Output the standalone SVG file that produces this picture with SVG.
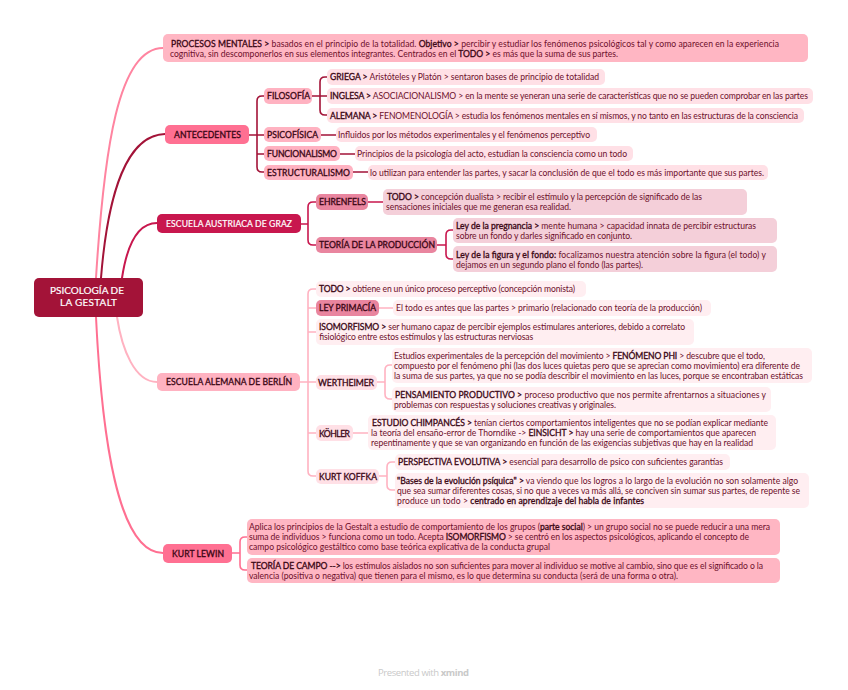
<svg xmlns="http://www.w3.org/2000/svg" width="848" height="690" viewBox="0 0 848 690">
<style>
text{font-family:"Lato","Open Sans","Liberation Sans",sans-serif;font-size:8.6px;fill:#6d0f2b}
.h,.b{fill:#3a0614;stroke:#3a0614;stroke-width:.3}
.w{fill:#fff;stroke:#fff;stroke-width:.2}
.t{font-size:10px;fill:#fff;stroke:#fff;stroke-width:.2}
.f{font-family:"Open Sans","Liberation Sans",sans-serif;font-size:9.5px;fill:#c9c9c9}
rect{stroke:none}
.c{fill:none;stroke-width:1.6;stroke-linecap:round}
.k{stroke-width:2}
.a{stroke:#a31338}.g{stroke:#c8174e}.p{stroke:#ffb2c1}.l{stroke:#ff6f91}.m{stroke:#ff84a0}
.r0{fill:#a31338}.r1{fill:#ff7092}.r2{fill:#c8174e}.r3{fill:#ffb2c1}.r4{fill:#e9859f}.r5{fill:#f4cfd9}.r6{fill:#ffe0e6}.r7{fill:#ffeef1}.r8{fill:#ffb6c3}
</style>
<rect width="848" height="690" fill="#fff"/>
<g id="connectors">
<path class="c k m" d="M96,278C104,150 118,48 163,48"/>
<path class="c k a" d="M101,278C108,190 128,135 165,134"/>
<path class="c k g" d="M122,278C127,245 138,223 157,223"/>
<path class="c k p" d="M117,317C122,350 135,382 157,382"/>
<path class="c k l" d="M96,317C102,440 118,553 163,553"/>
<path class="c a" d="M249,135H264M264,96H262Q257,96 257,101V167Q257,172 262,172H264M257,154H264"/>
<path class="c a" d="M312,96H327M327,77H325Q320,77 320,82V110Q320,115 325,115H327"/>
<path class="c a" d="M321,135H336M340,154H355M353,172H368"/>
<path class="c g" d="M301,224H308M316,202H313Q308,202 308,207V240Q308,245 313,245H316M368,202H383M437,245H446M453,230H451Q446,230 446,235V254Q446,259 451,259H453"/>
<path class="c p" d="M300,382H316M316,289H313Q308,289 308,294V471Q308,476 313,476H316M308,308H316M308,332H316M308,433H316M379,308H393M353,433H368"/>
<path class="c p" d="M377,382H385M392,365H390Q385,365 385,370V394Q385,399 390,399H392M379,476H387M395,462H392Q387,462 387,467V485Q387,490 392,490H395"/>
<path class="c l" d="M232,553H240M247,537H245Q240,537 240,542V565Q240,570 245,570H247"/>
</g>
<g id="root"><rect class="r0" x="34" y="278" width="109" height="39" rx="5"/>
<text class="t" x="50" y="294" textLength="74">PSICOLOGÍA DE</text><text class="t" x="60" y="305.500" textLength="57">LA GESTALT</text></g>
<g id="procesos"><rect class="r8" x="163" y="34" width="645" height="28" rx="5"/>
<text x="171" y="47" textLength="608"><tspan class="b">PROCESOS MENTALES &gt;</tspan> basados en el principio de la totalidad. <tspan class="b">Objetivo &gt;</tspan> percibir y estudiar los fenómenos psicológicos tal y como aparecen en la experiencia</text>
<text x="170" y="57" textLength="448">cognitiva, sin descomponerlos en sus elementos integrantes. Centrados en el <tspan class="b">TODO &gt;</tspan> es más que la suma de sus partes.</text></g>
<g id="antecedentes"><rect class="r1" x="165" y="125" width="84" height="19" rx="5"/><text class="h" x="174" y="138" textLength="67">ANTECEDENTES</text></g>
<g id="filosofia"><rect class="r3" x="264" y="88" width="48" height="16" rx="5"/><text class="h" x="267" y="99" textLength="43">FILOSOFÍA</text></g>
<g id="griega"><rect class="r6" x="327" y="69" width="278" height="16" rx="5"/><text x="330" y="80" textLength="269"><tspan class="b">GRIEGA &gt;</tspan> Aristóteles y Platón &gt; sentaron bases de principio de totalidad</text></g>
<g id="inglesa"><rect class="r6" x="327" y="88" width="486" height="16" rx="5"/><text x="330" y="99" textLength="478"><tspan class="b">INGLESA &gt;</tspan> ASOCIACIONALISMO &gt; en la mente se yeneran una serie de características que no se pueden comprobar en las partes</text></g>
<g id="alemana"><rect class="r6" x="327" y="108" width="477" height="15" rx="5"/><text x="330" y="118.500" textLength="468"><tspan class="b">ALEMANA &gt;</tspan> FENOMENOLOGÍA &gt; estudia los fenómenos mentales en sí mismos, y no tanto en las estructuras de la consciencia</text></g>
<g id="psicofisica"><rect class="r3" x="264" y="127" width="57" height="15" rx="5"/><text class="h" x="267" y="138" textLength="51">PSICOFÍSICA</text></g>
<g id="influidos"><rect class="r6" x="336" y="127" width="261" height="15" rx="5"/><text x="338" y="138" textLength="252">Influidos por los métodos experimentales y el fenómenos perceptivo</text></g>
<g id="funcionalismo"><rect class="r3" x="264" y="146" width="76" height="15" rx="5"/><text class="h" x="267" y="157" textLength="70">FUNCIONALISMO</text></g>
<g id="principios"><rect class="r6" x="355" y="146" width="278" height="15" rx="5"/><text x="357" y="157" textLength="270">Principios de la psicología del acto, estudian la consciencia como un todo</text></g>
<g id="estructuralismo"><rect class="r3" x="264" y="165" width="89" height="15" rx="5"/><text class="h" x="267" y="176" textLength="83">ESTRUCTURALISMO</text></g>
<g id="utilizan"><rect class="r6" x="368" y="165" width="400" height="15" rx="5"/><text x="370" y="176" textLength="394">lo utilizan para entender las partes, y sacar la conclusión de que el todo es más importante que sus partes.</text></g>
<g id="austriaca"><rect class="r2" x="157" y="214" width="144" height="19" rx="5"/><text class="w" x="166" y="227" textLength="126">ESCUELA AUSTRIACA DE GRAZ</text></g>
<g id="ehrenfels"><rect class="r4" x="316" y="194" width="52" height="16" rx="5"/><text class="h" x="319" y="205" textLength="47">EHRENFELS</text></g>
<g id="todo1"><rect class="r5" x="383" y="189" width="364" height="26" rx="5"/>
<text x="387" y="200" textLength="315"><tspan class="b">TODO &gt;</tspan> concepción dualista &gt; recibir el estímulo y la percepción de significado de las</text>
<text x="386" y="210" textLength="185">sensaciones iniciales que me generan esa realidad.</text></g>
<g id="produccion"><rect class="r4" x="316" y="237" width="121" height="16" rx="5"/><text class="h" x="319" y="248" textLength="116">TEORÍA DE LA PRODUCCIÓN</text></g>
<g id="ley1"><rect class="r5" x="453" y="218" width="324" height="25" rx="5"/>
<text x="456" y="229" textLength="300"><tspan class="b">Ley de la pregnancia &gt;</tspan> mente humana &gt; capacidad innata de percibir estructuras</text>
<text x="456" y="239" textLength="176">sobre un fondo y darles significado en conjunto.</text></g>
<g id="ley2"><rect class="r5" x="453" y="246" width="324" height="26" rx="5"/>
<text x="456" y="257.500" textLength="310"><tspan class="b">Ley de la figura y el fondo:</tspan> focalizamos nuestra atención sobre la figura (el todo) y</text>
<text x="456" y="267.500" textLength="187">dejamos en un segundo plano el fondo (las partes).</text></g>
<g id="berlin"><rect class="r3" x="157" y="373" width="143" height="18" rx="5"/><text class="h" x="166" y="385" textLength="126">ESCUELA ALEMANA DE BERLÍN</text></g>
<g id="todo2"><rect class="r7" x="316" y="281" width="270" height="16" rx="5"/><text x="319" y="292" textLength="256"><tspan class="b">TODO &gt;</tspan> obtiene en un único proceso perceptivo (concepción monista)</text></g>
<g id="primacia"><rect class="r4" x="316" y="300" width="63" height="16" rx="5"/><text class="h" x="319" y="311" textLength="57">LEY PRIMACÍA</text></g>
<g id="eltodo"><rect class="r7" x="393" y="300" width="318" height="16" rx="5"/><text x="396" y="311" textLength="306">El todo es antes que las partes &gt; primario (relacionado con teoría de la producción)</text></g>
<g id="isomorfismo"><rect class="r7" x="316" y="319" width="378" height="26" rx="5"/>
<text x="319" y="330" textLength="366"><tspan class="b">ISOMORFISMO &gt;</tspan> ser humano capaz de percibir ejemplos estimulares anteriores, debido a correlato</text>
<text x="319" y="340" textLength="214">fisiológico entre estos estímulos y las estructuras nerviosas</text></g>
<g id="wertheimer"><rect class="r6" x="316" y="375" width="61" height="15" rx="5"/><text class="h" x="318" y="386" textLength="56">WERTHEIMER</text></g>
<g id="estudios"><rect class="r7" x="392" y="348" width="420" height="35" rx="5"/>
<text x="394" y="359" textLength="371">Estudios experimentales de la percepción del movimiento &gt; <tspan class="b">FENÓMENO PHI</tspan> &gt; descubre que el todo,</text>
<text x="394" y="369" textLength="406">compuesto por el fenómeno phi (las dos luces quietas pero que se aprecian como movimiento) era diferente de</text>
<text x="394" y="379" textLength="409">la suma de sus partes, ya que no se podía describir el movimiento en las luces, porque se encontraban estáticas</text></g>
<g id="pensamiento"><rect class="r7" x="392" y="387" width="379" height="25" rx="5"/>
<text x="395" y="398" textLength="371"><tspan class="b">PENSAMIENTO PRODUCTIVO &gt;</tspan> proceso productivo que nos permite afrentarnos a situaciones y</text>
<text x="394" y="408" textLength="222">problemas con respuestas y soluciones creativas y originales.</text></g>
<g id="kohler"><rect class="r6" x="316" y="425" width="37" height="16" rx="5"/><text class="h" x="319" y="436.500" textLength="31">KÖHLER</text></g>
<g id="chimpances"><rect class="r7" x="368" y="415" width="408" height="35" rx="5"/>
<text x="372" y="426" textLength="396"><tspan class="b">ESTUDIO CHIMPANCÉS &gt;</tspan> tenían ciertos comportamientos inteligentes que no se podían explicar mediante</text>
<text x="371" y="436" textLength="385">la teoría del ensaño-error de Thorndike -&gt; <tspan class="b">EINSICHT &gt;</tspan> hay una serie de comportamientos que aparecen</text>
<text x="371" y="446" textLength="382">repentinamente y que se van organizando en función de las exigencias subjetivas que hay en la realidad</text></g>
<g id="koffka"><rect class="r6" x="316" y="469" width="63" height="15" rx="5"/><text class="h" x="319" y="480" textLength="58">KURT KOFFKA</text></g>
<g id="perspectiva"><rect class="r7" x="395" y="454" width="335" height="16" rx="5"/><text x="398" y="465" textLength="325"><tspan class="b">PERSPECTIVA EVOLUTIVA &gt;</tspan> esencial para desarrollo de psico con suficientes garantías</text></g>
<g id="bases"><rect class="r7" x="395" y="473" width="414" height="35" rx="5"/>
<text x="397" y="484" textLength="401"><tspan class="b">"Bases de la evolución psíquica" &gt;</tspan> va viendo que los logros a lo largo de la evolución no son solamente algo</text>
<text x="397" y="494" textLength="403">que sea sumar diferentes cosas, si no que a veces va más allá, se conciven sin sumar sus partes, de repente se</text>
<text x="397" y="504" textLength="247">produce un todo &gt; <tspan class="b">centrado en aprendizaje del habla de infantes</tspan></text></g>
<g id="lewin"><rect class="r1" x="163" y="544" width="69" height="19" rx="5"/><text class="h" x="172" y="557" textLength="52">KURT LEWIN</text></g>
<g id="aplica"><rect class="r8" x="247" y="519" width="533" height="36" rx="5"/>
<text x="249" y="530" textLength="521">Aplica los principios de la Gestalt a estudio de comportamiento de los grupos (<tspan class="b">parte social</tspan>) &gt; un grupo social no se puede reducir a una mera</text>
<text x="249" y="540" textLength="500">suma de individuos &gt; funciona como un todo. Acepta <tspan class="b">ISOMORFISMO</tspan> &gt; se centró en los aspectos psicológicos, aplicando el concepto de</text>
<text x="249" y="550" textLength="301">campo psicológico gestáltico como base teórica explicativa de la conducta grupal</text></g>
<g id="campo"><rect class="r8" x="247" y="558" width="533" height="25" rx="5"/>
<text x="251" y="569" textLength="512"><tspan class="b">TEORÍA DE CAMPO --&gt;</tspan> los estímulos aislados no son suficientes para mover al individuo se motive al cambio, sino que es el significado o la</text>
<text x="249" y="579" textLength="429">valencia (positiva o negativa) que tienen para el mismo, es lo que determina su conducta (será de una forma o otra).</text></g>
<text class="f" x="378" y="676" textLength="91">Presented with <tspan font-weight="700">xmind</tspan></text>
</svg>
